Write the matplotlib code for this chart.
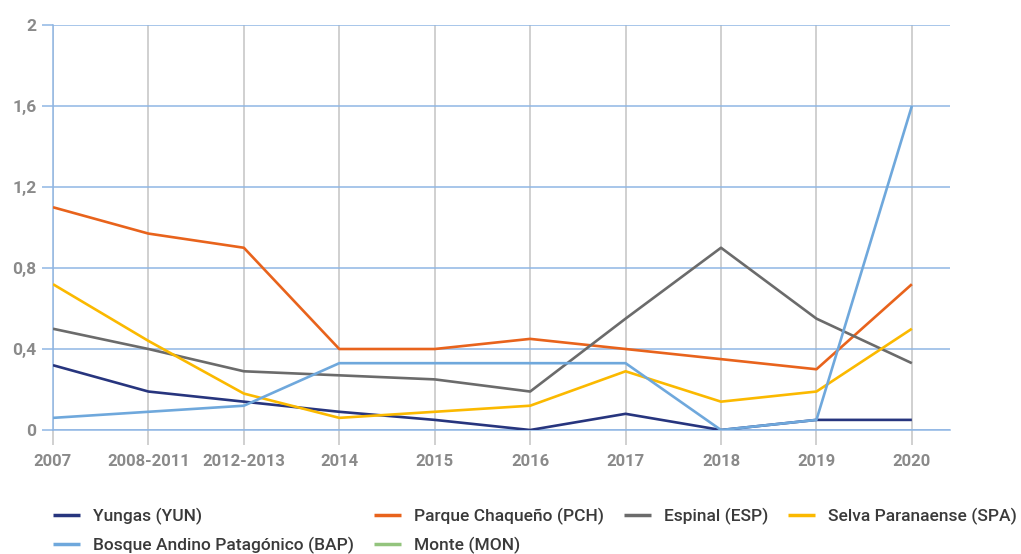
import matplotlib
matplotlib.use('Agg')
import matplotlib.pyplot as plt
import numpy as np

# data
periods = ['2007', '2008-2011', '2012-2013', '2014', '2015', '2016', '2017', '2018', '2019', '2020']
yungas = [0.32, 0.19, 0.14, 0.09, 0.05, 0.0, 0.08, 0.0, 0.05, 0.05]
parque_chaqueno = [1.10, 0.97, 0.90, 0.40, 0.40, 0.45, 0.40, 0.35, 0.30, 0.72]
espinal = [0.50, 0.40, 0.29, 0.27, 0.25, 0.19, 0.55, 0.90, 0.55, 0.33]
selva_paranaense = [0.72, 0.44, 0.18, 0.06, 0.09, 0.12, 0.29, 0.14, 0.19, 0.50]
bosque_andino = [0.06, 0.09, 0.12, 0.33, 0.33, 0.33, 0.33, 0.0, 0.05, 1.60]
monte = [None, None, None, None, None, None, None, None, None, None]

series_names = ['Yungas (YUN)', 'Parque Chaqueño (PCH)', 'Espinal (ESP)',
                'Selva Paranaense (SPA)', 'Bosque Andino Patagónico (BAP)', 'Monte (MON)']
y_ticks = [0, 0.4, 0.8, 1.2, 1.6, 2]
y_tick_labels = ['0', '0,4', '0,8', '1,2', '1,6', '2']

colors = ['#27357e', '#e8631c', '#6b6b6b', '#fbb900', '#6fa8dc', '#93c47d']
grid_blue = '#8fb6e4'
grid_gray = '#c4c4c4'
label_gray = '#8a8a8a'

plt.rcParams['font.family'] = ['Roboto', 'DejaVu Sans']

fig = plt.figure(figsize=(10.21, 5.54), dpi=100)
ax = fig.add_axes([0.0519, 0.2238, 0.8786, 0.7311])

x = np.arange(len(periods))
all_series = [yungas, parque_chaqueno, espinal, selva_paranaense, bosque_andino, monte]
handles = []
for vals, name, c in zip(all_series, series_names, colors):
    v = np.array([np.nan if a is None else a for a in vals], dtype=float)
    ln, = ax.plot(x, v, color=c, lw=1.9, label=name, solid_capstyle='butt', zorder=3)
    handles.append(ln)

ax.set_xlim(0, 9.4)
ax.set_ylim(0, 2)

ax.set_yticks(y_ticks)
ax.set_yticklabels(y_tick_labels)
ax.set_xticks(x)
ax.set_xticklabels(periods)

ax.grid(axis='y', color=grid_blue, lw=1.1, zorder=1)
ax.grid(axis='x', color=grid_gray, lw=1.1, zorder=1)
ax.set_axisbelow(True)

for s in ['top', 'right']:
    ax.spines[s].set_visible(False)
ax.spines['left'].set_color(grid_blue)
ax.spines['bottom'].set_color(grid_blue)
ax.spines['left'].set_linewidth(1.1)
ax.spines['bottom'].set_linewidth(1.1)

ax.tick_params(axis='y', length=8, width=1.1, color=grid_blue, pad=4,
               labelsize=12.5, labelcolor=label_gray)
ax.tick_params(axis='x', length=11, width=1.1, color=grid_gray, pad=6,
               labelsize=12, labelcolor=label_gray)
for lab in ax.get_xticklabels() + ax.get_yticklabels():
    lab.set_fontweight('bold')

# legend fills column by column, so reorder to get the row layout
order = [0, 4, 1, 5, 2, 3]
leg = fig.legend([handles[i] for i in order], [series_names[i] for i in order],
                 loc='upper left', bbox_to_anchor=(0.052, 0.084), ncol=4, frameon=False,
                 handlelength=1.55, handletextpad=0.75, columnspacing=1.15,
                 labelspacing=0.7, borderaxespad=0, borderpad=0,
                 prop={'size': 12.5, 'weight': 'medium'})
for t in leg.get_texts():
    t.set_color('#3a3a3a')
for h in leg.get_lines():
    h.set_linewidth(2.5)

fig.savefig('out.png', dpi=100)
